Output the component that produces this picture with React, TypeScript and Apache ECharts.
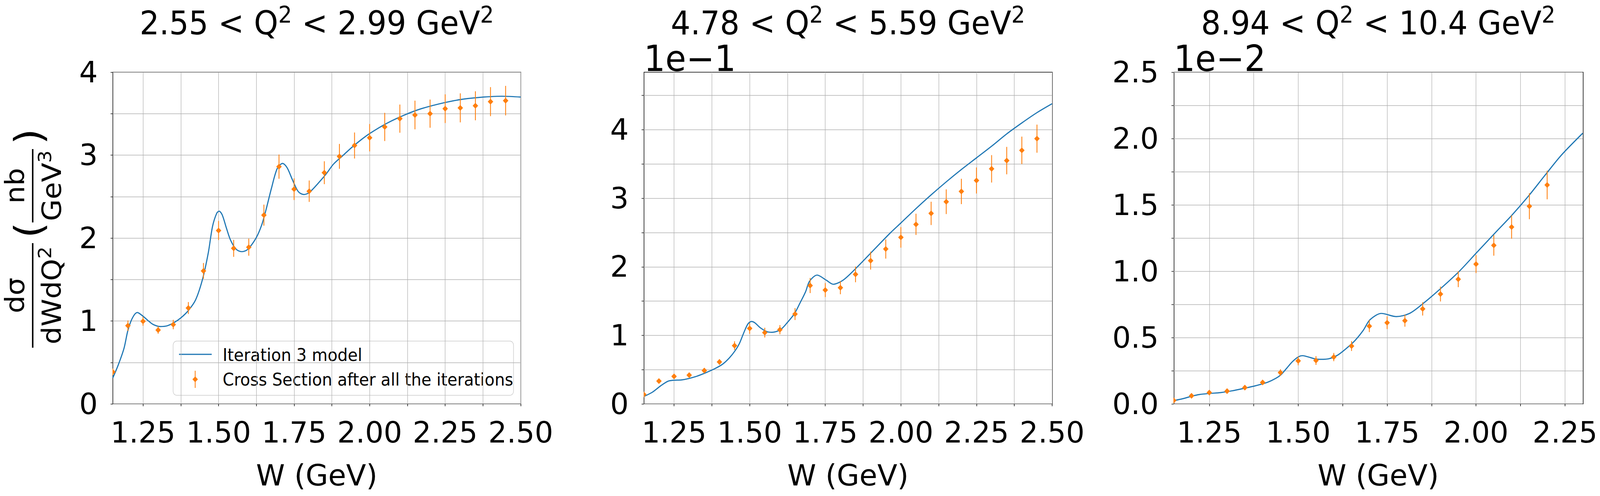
import React, { useEffect, useRef } from 'react';
import * as echarts from 'echarts';

const FONT = 'DejaVu Sans';
const BLUE = '#1f77b4';
const ORANGE = '#ff7f0e';
const GRID_COLOR = '#b0b0b0';
const DESIGN_W = 4354;
const DESIGN_H = 1271;

// ---------- Panel titles ----------
const TITLE_TEXTS = [
  '{m|2.55 < Q}{s|2}{m| < 2.99 GeV}{s|2}',
  '{m|4.78 < Q}{s|2}{m| < 5.59 GeV}{s|2}',
  '{m|8.94 < Q}{s|2}{m| < 10.4 GeV}{s|2}',
];
const OFFSET_TEXTS = ['', '1e\u22121', '1e\u22122'];
const LEGEND_LABELS = ['Iteration 3 model', 'Cross Section after all the iterations'];
const X_NAME = 'W (GeV)';

// ---------- Tick values ----------
const xTicksA = [1.25, 1.375, 1.5, 1.625, 1.75, 1.875, 2.0, 2.125, 2.25, 2.375, 2.5];
const xLabelsA = [1.25, 1.5, 1.75, 2.0, 2.25, 2.5];
const xTicksC = [1.25, 1.375, 1.5, 1.625, 1.75, 1.875, 2.0, 2.125, 2.25];
const xLabelsC = [1.25, 1.5, 1.75, 2.0, 2.25];
const yTicks1 = [0, 0.5, 1, 1.5, 2, 2.5, 3, 3.5, 4];
const yLabels1 = [0, 1, 2, 3, 4];
const yTicks2 = [0, 0.05, 0.1, 0.15, 0.2, 0.25, 0.3, 0.35, 0.4, 0.45];
const yLabels2 = [0, 0.1, 0.2, 0.3, 0.4];
const yTicks3 = [0, 0.0025, 0.005, 0.0075, 0.01, 0.0125, 0.015, 0.0175, 0.02, 0.0225, 0.025];
const yLabels3 = [0, 0.005, 0.01, 0.015, 0.02, 0.025];

// ---------- Panel 1: 2.55 < Q2 < 2.99 ----------
const w1 = [1.15, 1.2, 1.25, 1.3, 1.35, 1.4, 1.45, 1.5, 1.55, 1.6, 1.65, 1.7, 1.75, 1.8, 1.85, 1.9, 1.95, 2.0, 2.05, 2.1, 2.15, 2.2, 2.25, 2.3, 2.35, 2.4, 2.45];
const xs1 = [0.386, 0.943, 0.997, 0.891, 0.957, 1.156, 1.604, 2.091, 1.876, 1.89, 2.276, 2.861, 2.589, 2.565, 2.788, 2.985, 3.116, 3.21, 3.34, 3.44, 3.484, 3.5, 3.56, 3.57, 3.595, 3.645, 3.657];
const err1 = [0.04, 0.063, 0.054, 0.045, 0.057, 0.072, 0.095, 0.115, 0.1025, 0.103, 0.127, 0.146, 0.13, 0.129, 0.138, 0.15, 0.157, 0.165, 0.17, 0.17, 0.173, 0.17, 0.173, 0.175, 0.175, 0.175, 0.178];
const modelW1 = [1.15, 1.168, 1.187, 1.2, 1.215, 1.231, 1.247, 1.266, 1.284, 1.308, 1.331, 1.354, 1.377, 1.4, 1.424, 1.447, 1.466, 1.48, 1.494, 1.502, 1.512, 1.526, 1.54, 1.559, 1.578, 1.596, 1.624, 1.643, 1.657, 1.675, 1.694, 1.712, 1.727, 1.745, 1.764, 1.782, 1.8, 1.829, 1.857, 1.88, 1.91, 1.94, 1.97, 2.0, 2.055, 2.113, 2.171, 2.25, 2.31, 2.376, 2.438, 2.5];
const model1 = [0.314, 0.47, 0.67, 0.887, 1.037, 1.102, 1.066, 1.007, 0.957, 0.933, 0.943, 0.983, 1.043, 1.126, 1.255, 1.504, 1.822, 2.14, 2.3, 2.324, 2.28, 2.12, 1.972, 1.862, 1.836, 1.862, 2.0, 2.16, 2.34, 2.6, 2.837, 2.9, 2.847, 2.698, 2.559, 2.525, 2.549, 2.658, 2.777, 2.89, 2.99, 3.09, 3.18, 3.26, 3.38, 3.48, 3.56, 3.635, 3.675, 3.7, 3.71, 3.7];

// ---------- Panel 2: 4.78 < Q2 < 5.59 ----------
const w2 = [1.15, 1.2, 1.25, 1.3, 1.35, 1.4, 1.45, 1.5, 1.55, 1.6, 1.65, 1.7, 1.75, 1.8, 1.85, 1.9, 1.95, 2.0, 2.05, 2.1, 2.15, 2.2, 2.25, 2.3, 2.35, 2.4, 2.45];
const xs2 = [0.0138, 0.0333, 0.0402, 0.042, 0.0487, 0.0612, 0.085, 0.1102, 0.104, 0.1083, 0.1311, 0.1727, 0.1661, 0.1695, 0.189, 0.209, 0.226, 0.243, 0.262, 0.278, 0.295, 0.31, 0.326, 0.343, 0.355, 0.37, 0.387];
const err2 = [0.002, 0.0025, 0.0027, 0.0028, 0.0032, 0.004, 0.0064, 0.008, 0.0071, 0.0067, 0.0087, 0.011, 0.0102, 0.0095, 0.0115, 0.013, 0.014, 0.015, 0.0155, 0.017, 0.018, 0.0185, 0.019, 0.02, 0.02, 0.02, 0.0205];
const modelW2 = [1.15, 1.178, 1.206, 1.23, 1.248, 1.275, 1.298, 1.327, 1.355, 1.382, 1.41, 1.433, 1.452, 1.466, 1.48, 1.494, 1.506, 1.517, 1.536, 1.559, 1.574, 1.601, 1.624, 1.648, 1.666, 1.685, 1.698, 1.723, 1.753, 1.776, 1.809, 1.854, 1.91, 1.966, 2.0, 2.05, 2.1, 2.15, 2.2, 2.25, 2.3, 2.35, 2.4, 2.45, 2.5];
const model2 = [0.0108, 0.017, 0.0265, 0.0331, 0.0345, 0.035, 0.0369, 0.0407, 0.0455, 0.0508, 0.0578, 0.0672, 0.0777, 0.0881, 0.1032, 0.1165, 0.1203, 0.1184, 0.1108, 0.1051, 0.1045, 0.108, 0.1184, 0.1316, 0.1468, 0.1638, 0.179, 0.188, 0.1806, 0.1746, 0.1806, 0.199, 0.2245, 0.2499, 0.264, 0.285, 0.305, 0.324, 0.342, 0.359, 0.376, 0.394, 0.41, 0.425, 0.438];

// ---------- Panel 3: 8.94 < Q2 < 10.4 ----------
const w3 = [1.15, 1.2, 1.25, 1.3, 1.35, 1.4, 1.45, 1.5, 1.55, 1.6, 1.65, 1.7, 1.75, 1.8, 1.85, 1.9, 1.95, 2.0, 2.05, 2.1, 2.15, 2.2];
const xs3 = [0.000265, 0.00061, 0.000855, 0.00096, 0.00123, 0.00162, 0.00236, 0.00324, 0.00327, 0.00353, 0.00436, 0.00586, 0.00612, 0.00627, 0.00716, 0.00828, 0.0094, 0.01054, 0.01195, 0.01333, 0.0149, 0.0165];
const err3 = [0.00006, 0.0001, 0.00012, 0.00013, 0.00015, 0.00018, 0.00025, 0.00033, 0.00033, 0.00031, 0.00037, 0.00045, 0.00048, 0.00045, 0.0005, 0.00056, 0.0006, 0.00068, 0.00078, 0.00088, 0.00098, 0.00108];
const modelW3 = [1.15, 1.175, 1.202, 1.222, 1.25, 1.282, 1.313, 1.349, 1.381, 1.413, 1.4365, 1.452, 1.468, 1.484, 1.5, 1.512, 1.528, 1.548, 1.5635, 1.587, 1.611, 1.635, 1.659, 1.683, 1.702, 1.734, 1.776, 1.813, 1.85, 1.897, 1.952, 2.0, 2.054, 2.1, 2.147, 2.193, 2.24, 2.3];
const model3 = [0.000246, 0.00039, 0.00059, 0.000707, 0.000786, 0.000855, 0.00098, 0.00118, 0.001375, 0.00162, 0.001916, 0.00221, 0.0027, 0.00319, 0.00354, 0.003635, 0.00354, 0.00339, 0.00336, 0.00341, 0.00368, 0.004175, 0.00476, 0.00555, 0.00635, 0.00682, 0.00658, 0.00682, 0.00754, 0.00861, 0.00997, 0.01135, 0.0129, 0.0142, 0.01565, 0.0172, 0.01875, 0.0204];

// ---------- Layout (design pixels, 4354 x 1271, scaled to the viewport) ----------
const GRIDS = [
  { left: 307, top: 185, width: 1110, height: 850 },
  { left: 1752, top: 185, width: 1111, height: 850 },
  { left: 3194, top: 185, width: 1113, height: 850 },
];

const PANELS = [
  { xMax: 2.5, yMax: 4, xTicks: xTicksA, xLabels: xLabelsA, yTicks: yTicks1, yLabels: yLabels1, yFmt: (v: number) => v.toFixed(0), w: w1, xs: xs1, err: err1, mw: modelW1, m: model1 },
  { xMax: 2.5, yMax: 0.484, xTicks: xTicksA, xLabels: xLabelsA, yTicks: yTicks2, yLabels: yLabels2, yFmt: (v: number) => (v * 10).toFixed(0), w: w2, xs: xs2, err: err2, mw: modelW2, m: model2 },
  { xMax: 2.3, yMax: 0.025, xTicks: xTicksC, xLabels: xLabelsC, yTicks: yTicks3, yLabels: yLabels3, yFmt: (v: number) => (v * 100).toFixed(1), w: w3, xs: xs3, err: err3, mw: modelW3, m: model3 },
];

function buildOption(W: number, H: number) {
  const sx = W / DESIGN_W;
  const sy = H / DESIGN_H;
  const s = Math.sqrt(sx * sy);
  const F = (v: number) => v * s;

  const renderErr = (params: any, api: any) => {
    const x = api.value(0);
    const y = api.value(1);
    const e = api.value(2);
    const p = api.coord([x, y]);
    const t = api.coord([x, y + e]);
    const b = api.coord([x, y - e]);
    const rx = 7.5 * sx;
    const ry = 7.5 * sy;
    return {
      type: 'group',
      children: [
        { type: 'line', shape: { x1: t[0], y1: t[1], x2: b[0], y2: b[1] }, style: { stroke: ORANGE, lineWidth: 2.2 * s } },
        {
          type: 'polygon',
          shape: { points: [[p[0], p[1] - ry], [p[0] + rx, p[1]], [p[0], p[1] + ry], [p[0] - rx, p[1]]] },
          style: { fill: ORANGE },
        },
      ],
    };
  };

  const tickStyle = { color: '#000', width: 1.5 * s };
  const labelStyle = { fontSize: F(77), fontFamily: FONT, color: '#000' };
  const xAxis: any[] = [];
  const yAxis: any[] = [];
  const series: any[] = [];
  PANELS.forEach((p, i) => {
    xAxis.push({
      type: 'value', gridIndex: i, min: 1.15, max: p.xMax,
      axisLine: { show: false },
      axisTick: { show: true, customValues: p.xTicks, length: 6 * sy, lineStyle: tickStyle },
      axisLabel: { show: true, customValues: p.xLabels, formatter: (v: number) => v.toFixed(2), margin: 36 * sy, lineHeight: F(77), ...labelStyle },
      splitLine: { show: true, lineStyle: { color: GRID_COLOR, width: 1.3 * s } },
      name: X_NAME, nameLocation: 'middle', nameGap: 146 * sy,
      nameTextStyle: { ...labelStyle, lineHeight: F(77) },
    });
    yAxis.push({
      type: 'value', gridIndex: i, min: 0, max: p.yMax,
      axisLine: { show: false },
      axisTick: { show: true, customValues: p.yTicks, length: 6 * sx, lineStyle: tickStyle },
      axisLabel: { show: true, customValues: p.yLabels, formatter: p.yFmt, margin: 41 * sx, ...labelStyle },
      splitLine: { show: true, lineStyle: { color: GRID_COLOR, width: 1.3 * s } },
    });
    series.push({
      type: 'line', name: LEGEND_LABELS[0], xAxisIndex: i, yAxisIndex: i,
      data: p.mw.map((w, k) => [w, p.m[k]]),
      showSymbol: false, smooth: 0.3, z: 2,
      lineStyle: { color: BLUE, width: 3 * s }, itemStyle: { color: BLUE },
    });
    series.push({
      type: 'custom', name: LEGEND_LABELS[1], xAxisIndex: i, yAxisIndex: i,
      renderItem: renderErr, clip: true, z: 3,
      encode: { x: 0, y: 1 },
      data: p.w.map((w, k) => [w, p.xs[k], p.err[k]]),
    });
  });

  const children: any[] = [];
  const titleRich = {
    m: { fontSize: 84, lineHeight: 80, fontFamily: FONT, fill: '#000' },
    s: { fontSize: 59, height: 37, verticalAlign: 'top', fontFamily: FONT, fill: '#000' },
  };
  GRIDS.forEach((g, i) => {
    children.push({
      type: 'text', x: g.left + g.width / 2, y: 59,
      style: { text: TITLE_TEXTS[i], rich: titleRich, align: 'center', verticalAlign: 'middle', fill: '#000', fontFamily: FONT },
    });
    if (OFFSET_TEXTS[i]) {
      children.push({
        type: 'text', x: g.left, y: 150,
        style: { text: OFFSET_TEXTS[i], fontSize: 92, fontFamily: FONT, fill: '#000', align: 'left', verticalAlign: 'middle' },
      });
    }
    children.push({
      type: 'rect', silent: true,
      shape: { x: g.left, y: g.top, width: g.width, height: g.height },
      style: { fill: 'none', stroke: '#000', lineWidth: 1.6 },
    });
  });

  const fr = { fontSize: 72, fontFamily: FONT, fill: '#000', align: 'center', verticalAlign: 'middle' };
  const yRich = {
    m: { fontSize: 72, lineHeight: 86, fontFamily: FONT, fill: '#000' },
    s: { fontSize: 50, height: 47, verticalAlign: 'top', fontFamily: FONT, fill: '#000' },
  };
  children.push({
    type: 'group', x: 89, y: 615, rotation: Math.PI / 2,
    children: [
      { type: 'text', x: -142, y: -48, style: { ...fr, text: 'd\u03c3' } },
      { type: 'line', shape: { x1: -276, y1: 0, x2: -8, y2: 0 }, style: { stroke: '#000', lineWidth: 4 } },
      { type: 'text', x: -142, y: 52, style: { ...fr, text: '{m|dWdQ}{s|2}', rich: yRich } },
      { type: 'text', x: 25, y: -10, style: { ...fr, text: '(', fontSize: 104 } },
      { type: 'text', x: 139, y: -48, style: { ...fr, text: 'nb' } },
      { type: 'line', shape: { x1: 45, y1: 0, x2: 233, y2: 0 }, style: { stroke: '#000', lineWidth: 4 } },
      { type: 'text', x: 139, y: 52, style: { ...fr, text: '{m|GeV}{s|3}', rich: yRich } },
      { type: 'text', x: 265, y: -10, style: { ...fr, text: ')', fontSize: 104 } },
    ],
  });

  children.push(
    { type: 'rect', shape: { x: 471, y: 874, width: 926, height: 139, r: 10 }, style: { fill: 'rgba(255,255,255,0.8)', stroke: '#cccccc', lineWidth: 1.5 } },
    { type: 'line', shape: { x1: 487, y1: 908, x2: 576, y2: 908 }, style: { stroke: BLUE, lineWidth: 3 } },
    { type: 'line', shape: { x1: 531, y1: 950, x2: 531, y2: 994 }, style: { stroke: ORANGE, lineWidth: 2.2 } },
    { type: 'polygon', shape: { points: [[531, 964.5], [538.5, 972], [531, 979.5], [523.5, 972]] }, style: { fill: ORANGE } },
    { type: 'text', x: 606, y: 910, style: { text: LEGEND_LABELS[0], fontSize: 44, fontFamily: FONT, fill: '#000', align: 'left', verticalAlign: 'middle' } },
    { type: 'text', x: 606, y: 973, style: { text: LEGEND_LABELS[1], fontSize: 44, fontFamily: FONT, fill: '#000', align: 'left', verticalAlign: 'middle' } },
  );

  return {
    animation: false,
    backgroundColor: '#ffffff',
    textStyle: { fontFamily: FONT },
    grid: GRIDS.map((g) => ({ left: g.left * sx, top: g.top * sy, width: g.width * sx, height: g.height * sy, containLabel: false })),
    xAxis,
    yAxis,
    series,
    graphic: [{ type: 'group', x: 0, y: 0, scaleX: sx, scaleY: sy, z: 50, children }],
  };
}

export default function App() {
  const ref = useRef<HTMLDivElement>(null);
  useEffect(() => {
    if (!ref.current) return;
    const chart = echarts.init(ref.current, undefined, { renderer: 'svg' });
    chart.setOption(buildOption(chart.getWidth(), chart.getHeight()) as any);
    return () => chart.dispose();
  }, []);
  return (
    <div
      ref={ref}
      style={{ position: 'fixed', left: 0, top: 0, width: '100vw', height: '100vh', background: '#fff' }}
    />
  );
}
